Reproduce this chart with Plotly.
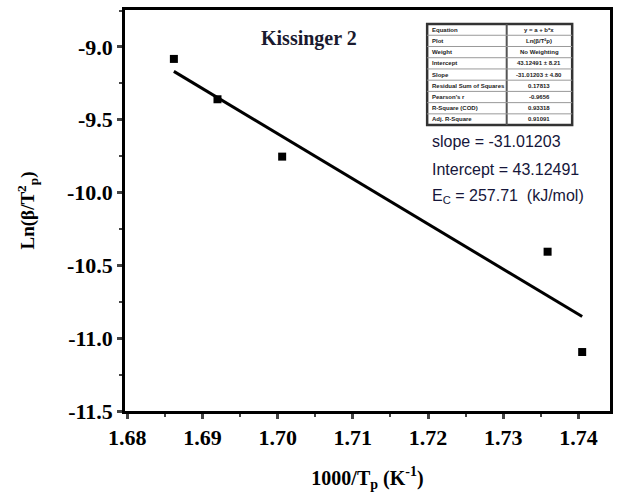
import plotly.graph_objects as go

# Data
x_vals = [1.6862, 1.6920, 1.7006, 1.7359, 1.7405]
y_vals = [-9.082, -9.359, -9.753, -10.406, -11.095]
slope = -31.01203
intercept = 43.12491
ea = 257.71

x_ticks = [1.68, 1.69, 1.70, 1.71, 1.72, 1.73, 1.74]
y_ticks = [-11.5, -11.0, -10.5, -10.0, -9.5, -9.0]

table_left = ["Equation", "Plot", "Weight", "Intercept", "Slope",
              "Residual Sum of Squares", "Pearson's r", "R-Square (COD)", "Adj. R-Square"]
table_right = ["y = a + b*x", "Ln(β/T²p)", "No Weighting", "43.12491 ± 8.21",
               "-31.01203 ± 4.80", "0.17813", "-0.9656", "0.93318", "0.91091"]

line_x = [min(x_vals), max(x_vals)]
line_y = [intercept + slope * v for v in line_x]

fig = go.Figure()
fig.add_trace(go.Scatter(x=line_x, y=line_y, mode="lines",
                         line=dict(color="black", width=3), showlegend=False))
fig.add_trace(go.Scatter(x=x_vals, y=y_vals, mode="markers",
                         marker=dict(symbol="square", size=8, color="black"),
                         showlegend=False))

serif = "Liberation Serif"
tickfont = dict(family=serif, size=22, color="black")
fig.update_xaxes(range=[1.6797, 1.7442], tickvals=x_ticks,
                 ticktext=[f"<b>{v:.2f}</b>" for v in x_ticks],
                 ticks="outside", ticklen=5, tickwidth=2.5, showline=True, linewidth=2.5,
                 linecolor="black", mirror=True, showgrid=False, zeroline=False,
                 minor=dict(ticks="outside", ticklen=3, tickwidth=2, dtick=0.005, tick0=1.68),
                 tickfont=tickfont,
                 title=dict(text="<b>1000/T<sub>p</sub> (K<sup>-1</sup>)</b>",
                            font=dict(family=serif, size=20, color="black"),
                            standoff=22))
fig.update_yaxes(range=[-11.5, -8.746], tickvals=y_ticks,
                 ticktext=[f"<b>{v:.1f}</b>" for v in y_ticks],
                 ticks="outside", ticklen=5, tickwidth=2.5, showline=True, linewidth=2.5,
                 linecolor="black", mirror=True, showgrid=False, zeroline=False,
                 minor=dict(ticks="outside", ticklen=3, tickwidth=2, dtick=0.25, tick0=-11.5),
                 tickfont=tickfont,
                 title=dict(text="<b>Ln(β/T<sup>2</sup><sub>p</sub>)</b>",
                            font=dict(family=serif, size=19, color="black"),
                            standoff=28))

txtcol = "#16163a"
annotations = [
    dict(text="<b>Kissinger 2</b>", x=0.379, y=0.93, xref="paper", yref="paper",
         showarrow=False, font=dict(family=serif, size=20, color="#1a1a2e"),
         xanchor="center", yanchor="middle"),
    dict(text="slope = -31.01203", x=0.628, y=0.672, xref="paper", yref="paper",
         showarrow=False, font=dict(family="Liberation Sans", size=16, color=txtcol),
         xanchor="left", yanchor="middle"),
    dict(text="Intercept = 43.12491", x=0.628, y=0.602, xref="paper", yref="paper",
         showarrow=False, font=dict(family="Liberation Sans", size=16, color=txtcol),
         xanchor="left", yanchor="middle"),
    dict(text="E<sub>C</sub> = 257.71  (kJ/mol)", x=0.628, y=0.535, xref="paper", yref="paper",
         showarrow=False, font=dict(family="Liberation Sans", size=16, color=txtcol),
         xanchor="left", yanchor="middle"),
]

shapes = []
tx0, tx1, tdiv = 0.623, 0.922, 0.787
ty1, ty0 = 0.965, 0.713
n = len(table_left)
rh = (ty1 - ty0) / n
shapes.append(dict(type="rect", xref="paper", yref="paper", x0=tx0, x1=tx1, y0=ty0, y1=ty1,
                   line=dict(color="#333333", width=2.5), fillcolor="white"))
shapes.append(dict(type="line", xref="paper", yref="paper", x0=tdiv, x1=tdiv, y0=ty0, y1=ty1,
                   line=dict(color="#555555", width=2)))
for i in range(1, n):
    yy = ty1 - i * rh
    shapes.append(dict(type="line", xref="paper", yref="paper", x0=tx0, x1=tx1, y0=yy, y1=yy,
                       line=dict(color="#999999", width=1)))
for i, (a, b) in enumerate(zip(table_left, table_right)):
    yc = ty1 - (i + 0.5) * rh
    annotations.append(dict(text="<b>" + a + "</b>", x=tx0 + 0.005, y=yc, xref="paper", yref="paper",
                            showarrow=False, xanchor="left", yanchor="middle",
                            font=dict(family="Liberation Sans", size=6, color="#222222")))
    annotations.append(dict(text="<b>" + b + "</b>", x=(tdiv + tx1) / 2, y=yc, xref="paper", yref="paper",
                            showarrow=False, xanchor="center", yanchor="middle",
                            font=dict(family="Liberation Sans", size=6, color="#222222")))

fig.update_layout(width=618, height=497, margin=dict(l=125, r=5, t=10, b=86),
                  font=dict(family=serif),
                  plot_bgcolor="white", paper_bgcolor="white",
                  annotations=annotations, shapes=shapes)

fig.write_html("out.html")
